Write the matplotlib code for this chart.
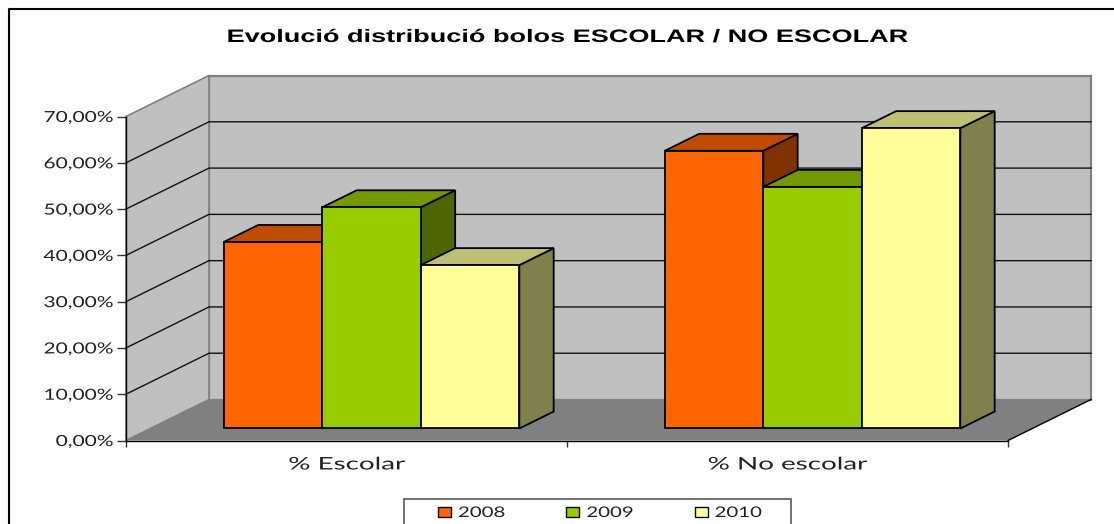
import matplotlib
matplotlib.use("Agg")
import matplotlib.pyplot as plt
from matplotlib.patches import Polygon, Rectangle
from matplotlib.lines import Line2D
from matplotlib.patheffects import AbstractPathEffect
from matplotlib.transforms import Affine2D

W, H = 1114, 524

title = "Evolució distribució bolos ESCOLAR / NO ESCOLAR"
categories = ["% Escolar", "% No escolar"]
years = ["2008", "2009", "2010"]
values_2008 = [40.3, 60.0]
values_2009 = [47.8, 52.2]
values_2010 = [35.3, 64.9]
series = [values_2008, values_2009, values_2010]
y_ticks = [0, 10, 20, 30, 40, 50, 60, 70]

front_colors = ["#FF6600", "#99CC00", "#FFFF99"]
top_colors = ["#BF4C00", "#729900", "#BFBF73"]
side_colors = ["#803300", "#4C6600", "#80804C"]

TEXT = "#222222"
FONT = "Lato"

# oblique depth in data units: full floor depth is 83 px right, 41 px up
DX = 83 / 441
DY = 41 / 4.63
BAR_W = 98.5 / 441
GAP = 73.5 / 441
D0, D1 = 0.293, 0.707  # bar front and back, as a share of the floor depth


class Stretch(AbstractPathEffect):
    """Widen text sideways, the reference picture is stretched horizontally."""

    def __init__(self, sx, anchor=None):
        super().__init__()
        self.sx = sx
        self.anchor = anchor

    def draw_path(self, renderer, gc, tpath, affine, rgbFace=None):
        # no anchor: stretch from the start of the text
        cx = affine.get_matrix()[0, 2] if self.anchor is None else self.anchor
        wide = affine + Affine2D().translate(-cx, 0).scale(self.sx, 1).translate(cx, 0)
        renderer.draw_path(gc, tpath, wide, rgbFace)


def pt(x, y, d=0.0):
    return (x + d * DX, y + d * DY)


fig = plt.figure(figsize=(W / 100, H / 100), dpi=100)
fig.patch.set_facecolor("white")

# outer chart frame: only top and left fall inside the picture
fig.add_artist(Line2D([8.5 / W, 8.5 / W, 1], [0, 1 - 9 / H, 1 - 9 / H], transform=fig.transFigure,
                      color="black", lw=1.5))

ax = fig.add_axes([126 / W, (H - 440.5) / H, 882 / W, 324 / H])
ax.set_xlim(0, 2)
ax.set_ylim(0, 70)
ax.patch.set_visible(False)
for s in ["top", "right"]:
    ax.spines[s].set_visible(False)
for s in ["left", "bottom"]:
    ax.spines[s].set_color("black")
    ax.spines[s].set_linewidth(1.0)
    ax.spines[s].set_zorder(6)


def face(points, fc, ec="black", lw=1.3, z=2):
    ax.add_patch(Polygon(points, closed=True, fc=fc, ec=ec, lw=lw, zorder=z, clip_on=False, joinstyle="miter"))


# walls and floor
face([pt(0, 0, 1), pt(2, 0, 1), pt(2, 70, 1), pt(0, 70, 1)], "#C0C0C0", ec="#808080", lw=1.6, z=1)
face([pt(0, 0), pt(0, 0, 1), pt(0, 70, 1), pt(0, 70)], "#C0C0C0", ec="#808080", lw=1.2, z=1)
face([pt(0, 0), pt(2, 0), pt(2, 0, 1), pt(0, 0, 1)], "#808080", ec="none", lw=0, z=1.5)
ax.plot(*zip(pt(2, 0), pt(2, 0, 1)), color="black", lw=1.0, zorder=1.6, clip_on=False)

for v in y_ticks[1:-1]:
    ax.plot(*zip(pt(0, v), pt(0, v, 1), pt(2, v, 1)), color="#111111", lw=1.0, zorder=1.4, clip_on=False)

# bars, left to right so the later ones overlap the earlier ones
z = 3
for c in range(len(categories)):
    for i, vals in enumerate(series):
        x0 = c + GAP + i * BAR_W
        x1 = x0 + BAR_W
        v = vals[c]
        face([pt(x1, 0, D0), pt(x1, 0, D1), pt(x1, v, D1), pt(x1, v, D0)], side_colors[i], z=z)
        face([pt(x0, v, D0), pt(x1, v, D0), pt(x1, v, D1), pt(x0, v, D1)], top_colors[i], z=z)
        face([pt(x0, 0, D0), pt(x1, 0, D0), pt(x1, v, D0), pt(x0, v, D0)], front_colors[i], z=z + 0.1)
        z += 0.2

ax.set_yticks(y_ticks)
ax.set_yticklabels([f"{v},00%" for v in y_ticks], fontsize=11, color=TEXT, family=FONT)
ax.tick_params(axis="y", length=6.5, width=1.0, pad=2.5, color="#333333")
for t in ax.get_yticklabels():
    t.set_path_effects([Stretch(1.37, anchor=113.5)])

ax.set_xticks([0, 1, 2])
ax.set_xticklabels(["", "", ""])
ax.tick_params(axis="x", which="major", length=4.5, width=1.0, color="#333333")
ax.set_xticks([0.5, 1.5], minor=True)
ax.set_xticklabels(categories, minor=True, fontsize=12.5, color=TEXT, family=FONT)
ax.tick_params(axis="x", which="minor", length=0, pad=11.5)
for t, cx in zip(ax.get_xticklabels(minor=True), [346, 787]):
    t.set_path_effects([Stretch(1.6, anchor=cx)])

fig.text(567 / W, 1 - 37.5 / H, title, ha="center", va="center", fontsize=13,
         fontweight="bold", family="Liberation Sans", color="black",
         path_effects=[Stretch(1.5, anchor=567)])

# legend frame runs off the bottom edge, so it is drawn on its own
fig.add_artist(Rectangle((404 / W, -0.05), 387 / W, 0.05 + (H - 499) / H, transform=fig.transFigure,
                         fill=False, ec="#666666", lw=1.3))
handles = [Rectangle((0, 0), 1, 1, fc=c, ec="black", lw=1.0) for c in front_colors]
leg = fig.legend(handles, years, ncol=3, loc="center left", bbox_to_anchor=(438 / W, 1 - 513 / H),
                 frameon=False, handlelength=0.89, handleheight=0.62, handletextpad=0.48,
                 columnspacing=5.1, borderpad=0, borderaxespad=0, prop={"family": FONT, "size": 10.5})
for t in leg.get_texts():
    t.set_color(TEXT)
    t.set_path_effects([Stretch(1.4)])

fig.savefig("out.png", dpi=100)
